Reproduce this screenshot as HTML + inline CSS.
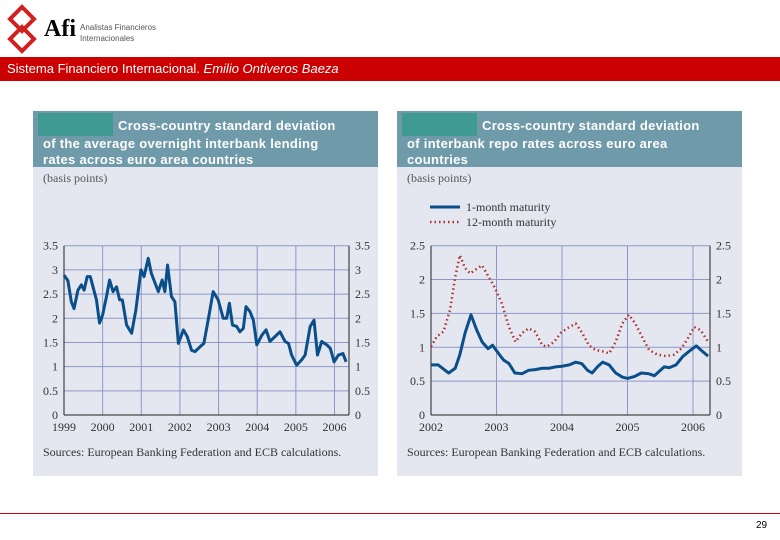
<!DOCTYPE html>
<html><head><meta charset="utf-8"><style>
body{margin:0;width:780px;height:540px;background:#fff;position:relative;overflow:hidden;font-family:"Liberation Sans",sans-serif}
.abs{position:absolute}
.panel{position:absolute;top:111px;width:345px;height:365px;background:#e4e7ef}
.ttl{position:absolute;left:0;top:0;width:100%;height:56px;background:#6f9aaa;color:#fff;font:bold 13px/16px "Liberation Sans",sans-serif;letter-spacing:0.3px;padding:7px 0 0 10px;box-sizing:border-box;white-space:nowrap;overflow:hidden}
.tag{display:inline-block;width:75px;height:23px;background:#3e9a92;vertical-align:-6px;margin:-5px 5px 0 -5px}
.unit{position:absolute;left:10px;top:60px;font:12px "Liberation Serif",serif;color:#555}
.src{position:absolute;left:10px;bottom:16px;font:12px "Liberation Serif",serif;color:#333}
svg text{font-family:"Liberation Serif",serif;font-size:12px;fill:#333}
</style></head><body>
<svg class="abs" style="left:5px;top:3px" width="34" height="52">
<g fill="none" stroke="#d02020" stroke-width="4"><path d="M17 4 L29 16 L17 28 L5 16 Z"/><path d="M17 24 L29 36 L17 48 L5 36 Z"/></g></svg>
<div class="abs" style="left:44px;top:16px;font:bold 24px 'Liberation Serif',serif;color:#000">Afi</div>
<div class="abs" style="left:80px;top:22px;font:8px/11px 'Liberation Sans',sans-serif;color:#555">Analistas Financieros<br>Internacionales</div>
<div class="abs" style="left:0;top:57px;width:780px;height:24px;background:#cc0000;color:#fff;font-size:13px;line-height:24px;padding-left:7px;box-sizing:border-box">Sistema Financiero Internacional. <i>Emilio Ontiveros Baeza</i></div>

<div class="panel" style="left:33px">
<div class="ttl"><span class="tag"></span>Cross-country standard deviation<br>of the average overnight interbank lending<br>rates across euro area countries</div>
<div class="unit">(basis points)</div>
<div class="src">Sources: European Banking Federation and ECB calculations.</div>
</div>
<div class="panel" style="left:397px">
<div class="ttl"><span class="tag"></span>Cross-country standard deviation<br>of interbank repo rates across euro area<br>countries</div>
<div class="unit">(basis points)</div>
<div class="src">Sources: European Banking Federation and ECB calculations.</div>
</div>
<svg id="s" class="abs" style="left:0;top:0" width="780" height="540"></svg>
<div class="abs" style="left:0;top:513px;width:780px;height:1px;background:#cc0000"></div>
<div class="abs" style="left:756px;top:520px;font-size:10px">29</div>
<script>
const leftYears=[1999.00,1999.10,1999.19,1999.26,1999.36,1999.45,1999.52,1999.60,1999.68,1999.75,1999.84,1999.92,2000.00,2000.10,2000.18,2000.27,2000.36,2000.44,2000.51,2000.62,2000.75,2000.86,2000.99,2001.07,2001.18,2001.26,2001.44,2001.54,2001.61,2001.68,2001.78,2001.87,2001.96,2002.09,2002.19,2002.30,2002.39,2002.52,2002.62,2002.73,2002.86,2002.99,2003.12,2003.21,2003.28,2003.36,2003.47,2003.55,2003.64,2003.71,2003.81,2003.90,2003.99,2004.12,2004.23,2004.33,2004.46,2004.59,2004.72,2004.81,2004.89,2005.02,2005.15,2005.24,2005.37,2005.47,2005.56,2005.67,2005.80,2005.89,2005.99,2006.10,2006.22,2006.30];
const leftValues=[2.89,2.78,2.34,2.2,2.58,2.69,2.58,2.86,2.86,2.65,2.38,1.9,2.07,2.45,2.79,2.55,2.65,2.38,2.38,1.86,1.69,2.17,3.0,2.86,3.24,2.93,2.55,2.79,2.55,3.1,2.45,2.34,1.48,1.76,1.62,1.34,1.31,1.41,1.48,1.96,2.55,2.38,2.0,2.0,2.31,1.86,1.83,1.72,1.79,2.24,2.14,1.96,1.45,1.65,1.76,1.52,1.62,1.72,1.52,1.48,1.24,1.03,1.14,1.24,1.83,1.96,1.24,1.52,1.45,1.38,1.10,1.24,1.27,1.10];
const leftYTicks=[0,0.5,1,1.5,2,2.5,3,3.5];
const leftXTicks=[1999,2000,2001,2002,2003,2004,2005,2006];
const blueYears=[2002.00,2002.11,2002.27,2002.37,2002.44,2002.52,2002.61,2002.70,2002.78,2002.87,2002.94,2003.03,2003.11,2003.19,2003.28,2003.39,2003.49,2003.59,2003.70,2003.80,2003.90,2004.00,2004.11,2004.21,2004.30,2004.39,2004.46,2004.54,2004.62,2004.72,2004.82,2004.92,2005.00,2005.11,2005.21,2005.32,2005.41,2005.48,2005.56,2005.64,2005.74,2005.84,2005.94,2006.05,2006.12,2006.23];
const blueValues=[0.74,0.74,0.62,0.69,0.89,1.21,1.48,1.25,1.08,0.98,1.03,0.91,0.81,0.76,0.62,0.61,0.66,0.67,0.69,0.69,0.71,0.72,0.74,0.78,0.76,0.66,0.62,0.71,0.78,0.74,0.62,0.56,0.54,0.57,0.62,0.61,0.58,0.64,0.71,0.70,0.74,0.86,0.94,1.02,0.96,0.87];
const redYears=[2002.00,2002.09,2002.19,2002.29,2002.37,2002.44,2002.52,2002.60,2002.67,2002.78,2002.88,2002.98,2003.08,2003.19,2003.29,2003.39,2003.49,2003.59,2003.70,2003.77,2003.88,2003.98,2004.08,2004.21,2004.31,2004.41,2004.51,2004.62,2004.72,2004.82,2004.92,2005.02,2005.12,2005.22,2005.33,2005.46,2005.59,2005.71,2005.82,2005.92,2006.02,2006.12,2006.23];
const redValues=[1.01,1.16,1.23,1.55,2.04,2.36,2.17,2.09,2.14,2.21,2.04,1.87,1.65,1.30,1.08,1.21,1.28,1.23,1.03,1.01,1.08,1.21,1.28,1.35,1.21,1.03,0.96,0.94,0.91,1.08,1.35,1.48,1.35,1.16,0.96,0.89,0.87,0.89,0.98,1.13,1.30,1.25,1.08];
const rightYTicks=[0,0.5,1,1.5,2,2.5];
const rightXTicks=[2002,2003,2004,2005,2006];

const NS="http://www.w3.org/2000/svg",svg=document.getElementById('s');
function mk(t,a,name){const e=document.createElementNS(NS,t);for(const k in a)e.setAttribute(k,a[k]);


svg.appendChild(e);return e;}
function chart(p,pref){
 const x=v=>p.x0+(v-p.xmin)/(p.xmax-p.xmin)*(p.x1-p.x0);
 const y=v=>p.y0-(v/p.ymax)*(p.y0-p.y1);
 p.yt.forEach(v=>{if(v>0)mk('line',{x1:p.x0,x2:p.xr,y1:y(v),y2:y(v),stroke:'#8f97c9','stroke-width':1},pref+'-gridline-y');
  let t=mk('text',{x:p.x0-6,y:y(v)+4,'text-anchor':'end'},pref+'-y-tick-left');t.textContent=v;
  t=mk('text',{x:p.xr+6,y:y(v)+4},pref+'-y-tick-right');t.textContent=v;});
 p.xt.forEach(v=>{if(v>p.xmin)mk('line',{x1:x(v),x2:x(v),y1:p.y1,y2:p.y0,stroke:'#8f97c9','stroke-width':1},pref+'-gridline-x');
  const t=mk('text',{x:x(v),y:p.y0+16,'text-anchor':'middle'},pref+'-x-tick');t.textContent=v;});
 mk('line',{x1:p.x0,x2:p.xr,y1:p.y0,y2:p.y0,stroke:'#222'},pref+'-x-axis');
 mk('line',{x1:p.x0,x2:p.x0,y1:p.y1,y2:p.y0,stroke:'#222'},pref+'-y-axis-left');
 mk('line',{x1:p.xr,x2:p.xr,y1:p.y1,y2:p.y0,stroke:'#222'},pref+'-y-axis-right');
 p.series.forEach(s=>{mk('polyline',{points:s.xs.map((v,i)=>x(v)+','+y(s.ys[i])).join(' '),fill:'none',stroke:s.c,'stroke-width':s.w,'stroke-dasharray':s.d||'none','stroke-linejoin':'round'},s.n);});
}
chart({x0:64,x1:334.5,xr:349,xmin:1999,xmax:2006,y0:415,y1:245.7,ymax:3.5,yt:leftYTicks,xt:leftXTicks,
 series:[{xs:leftYears,ys:leftValues,c:'#0a4f8a',w:3,n:'left-series-overnight'}]},'left');
chart({x0:431,x1:693,xr:710,xmin:2002,xmax:2006,y0:415,y1:245.7,ymax:2.5,yt:rightYTicks,xt:rightXTicks,
 series:[{xs:redYears,ys:redValues,c:'#b03030',w:2.5,d:'1.5 3',n:'right-series-12-month'},{xs:blueYears,ys:blueValues,c:'#0a4f8a',w:3,n:'right-series-1-month'}]},'right');
mk('line',{x1:430,x2:460,y1:207,y2:207,stroke:'#0a4f8a','stroke-width':3},'legend-1-month-swatch');
mk('line',{x1:430,x2:460,y1:222,y2:222,stroke:'#b03030','stroke-width':2.5,'stroke-dasharray':'1.5 3'},'legend-12-month-swatch');
let t=mk('text',{x:466,y:211},'legend-1-month-label');t.textContent='1-month maturity';
t=mk('text',{x:466,y:226},'legend-12-month-label');t.textContent='12-month maturity';
</script>
</body></html>
